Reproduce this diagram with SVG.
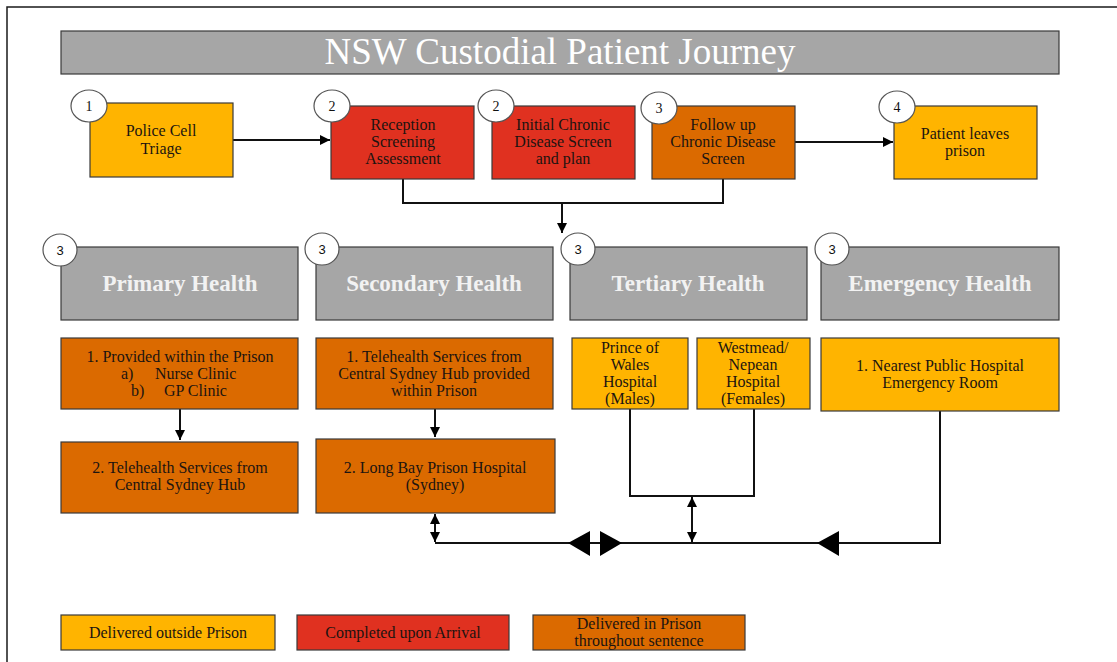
<svg xmlns="http://www.w3.org/2000/svg" width="1117" height="662" viewBox="0 0 1117 662">
  <defs>
    <style>
      .frame { fill: none; stroke: #1a1a1a; stroke-width: 1.5; }
      .box { stroke: #3a3a3a; stroke-width: 1.2; }
      .amber { fill: #ffb400; }
      .red { fill: #e03120; }
      .orange { fill: #db6a00; }
      .grey { fill: #a6a6a6; }
      .badge { fill: #ffffff; stroke: #555555; stroke-width: 1.2; }
      .t { font-family: "Liberation Serif", "DejaVu Serif", serif; font-size: 16px; fill: #1c1410; text-anchor: middle; }
      .ts { font-family: "Liberation Serif", "DejaVu Serif", serif; font-size: 16px; fill: #1c1410; }
      .hd { font-family: "Liberation Serif", "DejaVu Serif", serif; font-size: 23px; font-weight: bold; fill: #f2f2f2; text-anchor: middle; }
      .num { font-family: "Liberation Serif", serif; font-size: 14px; fill: #111111; text-anchor: middle; }
      .num2 { font-family: "Liberation Sans", sans-serif; font-size: 13px; fill: #111111; text-anchor: middle; }
      .line { fill: none; stroke: #111111; stroke-width: 2; }
      .big { fill: #000000; }
    </style>
    <marker id="arr" viewBox="0 0 10 10" refX="10" refY="5" markerWidth="5" markerHeight="5" orient="auto-start-reverse" markerUnits="strokeWidth">
      <path d="M0,0 L10,5 L0,10 Z" fill="#000"/>
    </marker>
  </defs>

  <!-- page frame -->
  <path class="frame" d="M7,662 L7,7 L1117,7"/>

  <!-- title bar -->
  <g id="title">
    <rect class="box grey" x="61" y="31" width="998" height="43"/>
    <text x="560" y="64" font-family="Liberation Serif, DejaVu Serif, serif" font-size="37" fill="#ffffff" text-anchor="middle">NSW Custodial Patient Journey</text>
  </g>

  <!-- connectors -->
  <g id="connectors">
    <line class="line" x1="233" y1="140" x2="330" y2="140" marker-end="url(#arr)"/>
    <line class="line" x1="795" y1="142" x2="893" y2="142" marker-end="url(#arr)"/>
    <polyline class="line" points="403,179 403,203 723,203 723,179"/>
    <line class="line" x1="562" y1="203" x2="562" y2="233" marker-end="url(#arr)"/>
    <line class="line" x1="180" y1="409" x2="180" y2="440" marker-end="url(#arr)"/>
    <line class="line" x1="435" y1="409" x2="435" y2="437" marker-end="url(#arr)"/>
    <polyline class="line" points="630,409 630,496 754,496 754,409"/>
    <line class="line" x1="692" y1="497" x2="692" y2="542" marker-start="url(#arr)" marker-end="url(#arr)"/>
    <line class="line" x1="435" y1="514" x2="435" y2="542" marker-start="url(#arr)" marker-end="url(#arr)"/>
    <polyline class="line" points="435,543 940,543 940,411"/>
    <polygon class="big" points="568,543 590,531 590,556"/>
    <polygon class="big" points="622,543 600,531 600,556"/>
    <polygon class="big" points="817,543 839,531 839,556"/>
  </g>

  <!-- journey steps -->
  <g id="police-cell">
    <rect class="box amber" x="90" y="103" width="143" height="74"/>
    <text class="t" x="161" y="136">Police Cell</text>
    <text class="t" x="161" y="154">Triage</text>
    <ellipse class="badge" cx="89" cy="106" rx="18" ry="16"/>
    <text class="num" x="89" y="111">1</text>
  </g>
  <g id="reception">
    <rect class="box red" x="331" y="106" width="143" height="73"/>
    <text class="t" x="403" y="130">Reception</text>
    <text class="t" x="403" y="147">Screening</text>
    <text class="t" x="403" y="164">Assessment</text>
    <ellipse class="badge" cx="332" cy="106" rx="18" ry="16"/>
    <text class="num" x="332" y="111">2</text>
  </g>
  <g id="initial-screen">
    <rect class="box red" x="492" y="106" width="143" height="73"/>
    <text class="t" x="563" y="130">Initial Chronic</text>
    <text class="t" x="563" y="147">Disease Screen</text>
    <text class="t" x="563" y="164">and plan</text>
    <ellipse class="badge" cx="496" cy="106" rx="18" ry="16"/>
    <text class="num" x="496" y="111">2</text>
  </g>
  <g id="follow-up">
    <rect class="box orange" x="652" y="106" width="143" height="73"/>
    <text class="t" x="723" y="130">Follow up</text>
    <text class="t" x="723" y="147">Chronic Disease</text>
    <text class="t" x="723" y="164">Screen</text>
    <ellipse class="badge" cx="659" cy="108" rx="18" ry="16"/>
    <text class="num" x="659" y="113">3</text>
  </g>
  <g id="patient-leaves">
    <rect class="box amber" x="894" y="106" width="143" height="73"/>
    <text class="t" x="965" y="139">Patient leaves</text>
    <text class="t" x="965" y="156">prison</text>
    <ellipse class="badge" cx="897" cy="107" rx="18" ry="16"/>
    <text class="num" x="897" y="112">4</text>
  </g>

  <!-- care levels -->
  <g id="primary-health">
    <rect class="box grey" x="61" y="247" width="237" height="73"/>
    <text class="hd" x="180" y="291">Primary Health</text>
    <ellipse class="badge" cx="60" cy="250" rx="17" ry="16"/>
    <text class="num2" x="60" y="255">3</text>
  </g>
  <g id="secondary-health">
    <rect class="box grey" x="316" y="247" width="237" height="73"/>
    <text class="hd" x="434" y="291">Secondary Health</text>
    <ellipse class="badge" cx="322" cy="249" rx="17" ry="16"/>
    <text class="num2" x="322" y="254">3</text>
  </g>
  <g id="tertiary-health">
    <rect class="box grey" x="570" y="247" width="237" height="73"/>
    <text class="hd" x="688" y="291">Tertiary Health</text>
    <ellipse class="badge" cx="578" cy="249" rx="17" ry="16"/>
    <text class="num2" x="578" y="254">3</text>
  </g>
  <g id="emergency-health">
    <rect class="box grey" x="821" y="247" width="238" height="73"/>
    <text class="hd" x="940" y="291">Emergency Health</text>
    <ellipse class="badge" cx="832" cy="249" rx="17" ry="16"/>
    <text class="num2" x="832" y="254">3</text>
  </g>

  <!-- services -->
  <g id="primary-1">
    <rect class="box orange" x="61" y="338" width="237" height="71"/>
    <text class="t" x="180" y="362">1. Provided within the Prison</text>
    <text class="ts" x="121" y="379">a)</text>
    <text class="ts" x="155" y="379">Nurse Clinic</text>
    <text class="ts" x="131" y="396">b)</text>
    <text class="ts" x="164" y="396">GP Clinic</text>
  </g>
  <g id="primary-2">
    <rect class="box orange" x="61" y="442" width="237" height="71"/>
    <text class="t" x="180" y="473">2. Telehealth Services from</text>
    <text class="t" x="180" y="490">Central Sydney Hub</text>
  </g>
  <g id="secondary-1">
    <rect class="box orange" x="316" y="338" width="237" height="71"/>
    <text class="t" x="434" y="362">1. Telehealth Services from</text>
    <text class="t" x="434" y="379">Central Sydney Hub provided</text>
    <text class="t" x="434" y="396">within Prison</text>
  </g>
  <g id="secondary-2">
    <rect class="box orange" x="316" y="439" width="239" height="74"/>
    <text class="t" x="435" y="473">2. Long Bay Prison Hospital</text>
    <text class="t" x="435" y="490">(Sydney)</text>
  </g>
  <g id="prince-of-wales">
    <rect class="box amber" x="572" y="338" width="116" height="71"/>
    <text class="t" x="630" y="353">Prince of</text>
    <text class="t" x="630" y="370">Wales</text>
    <text class="t" x="630" y="387">Hospital</text>
    <text class="t" x="630" y="404">(Males)</text>
  </g>
  <g id="westmead-nepean">
    <rect class="box amber" x="697" y="338" width="113" height="71"/>
    <text class="t" x="753" y="353">Westmead/</text>
    <text class="t" x="753" y="370">Nepean</text>
    <text class="t" x="753" y="387">Hospital</text>
    <text class="t" x="753" y="404">(Females)</text>
  </g>
  <g id="emergency-room">
    <rect class="box amber" x="821" y="338" width="238" height="73"/>
    <text class="t" x="940" y="371">1. Nearest Public Hospital</text>
    <text class="t" x="940" y="388">Emergency Room</text>
  </g>

  <!-- legend -->
  <g id="legend-outside">
    <rect class="box amber" x="61" y="615" width="214" height="35"/>
    <text class="t" x="168" y="638">Delivered outside Prison</text>
  </g>
  <g id="legend-arrival">
    <rect class="box red" x="297" y="615" width="212" height="35"/>
    <text class="t" x="403" y="638">Completed upon Arrival</text>
  </g>
  <g id="legend-sentence">
    <rect class="box orange" x="533" y="615" width="212" height="35"/>
    <text class="t" x="639" y="629">Delivered in Prison</text>
    <text class="t" x="639" y="646">throughout sentence</text>
  </g>
</svg>
